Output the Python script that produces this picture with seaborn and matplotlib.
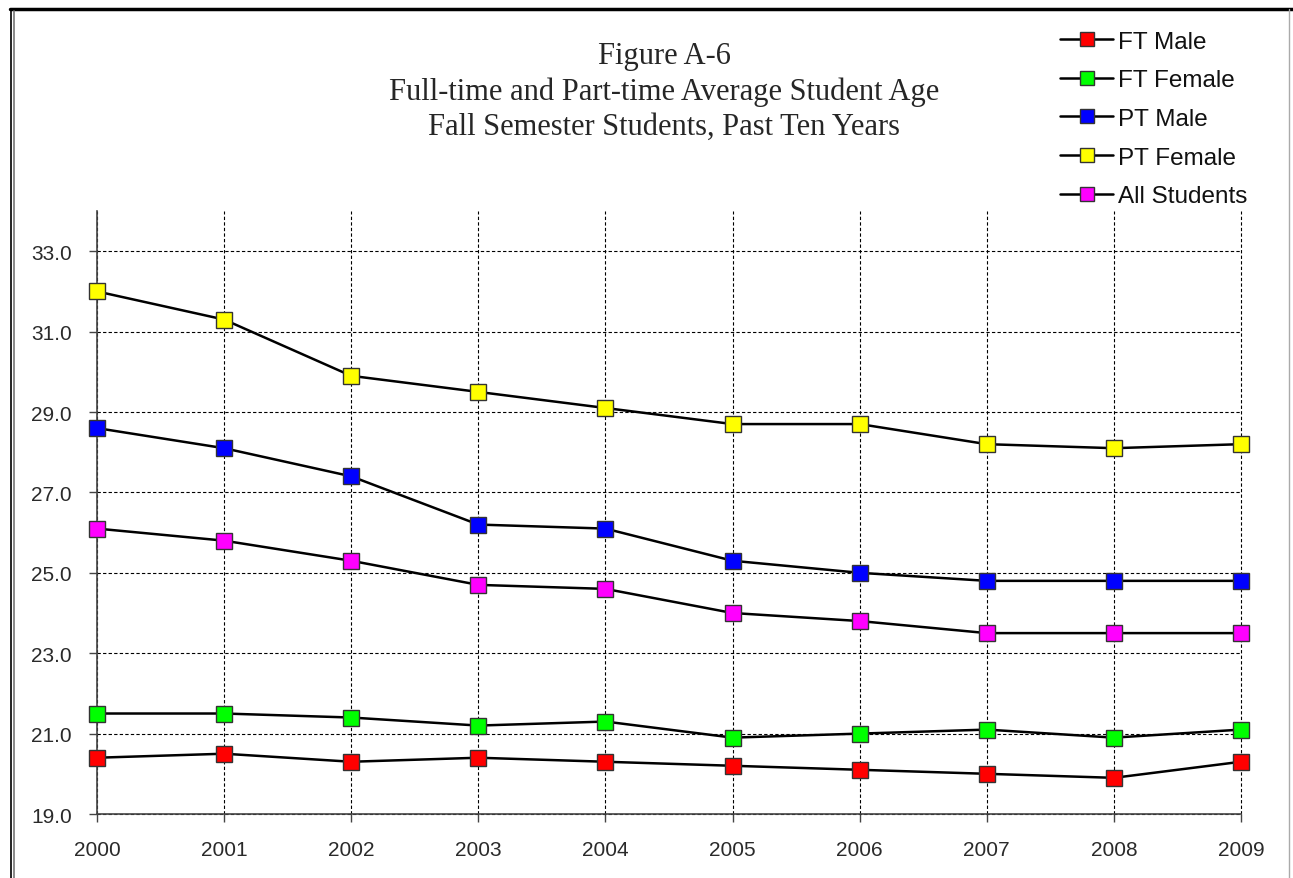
import numpy as np
import pandas as pd
import seaborn as sns
import matplotlib.pyplot as plt
from matplotlib.lines import Line2D

years = [2000, 2001, 2002, 2003, 2004, 2005, 2006, 2007, 2008, 2009]
ft_male = [20.4, 20.5, 20.3, 20.4, 20.3, 20.2, 20.1, 20.0, 19.9, 20.3]
ft_female = [21.5, 21.5, 21.4, 21.2, 21.3, 20.9, 21.0, 21.1, 20.9, 21.1]
pt_male = [28.6, 28.1, 27.4, 26.2, 26.1, 25.3, 25.0, 24.8, 24.8, 24.8]
pt_female = [32.0, 31.3, 29.9, 29.5, 29.1, 28.7, 28.7, 28.2, 28.1, 28.2]
all_students = [26.1, 25.8, 25.3, 24.7, 24.6, 24.0, 23.8, 23.5, 23.5, 23.5]

series_names = ["FT Male", "FT Female", "PT Male", "PT Female", "All Students"]
series_vals = [ft_male, ft_female, pt_male, pt_female, all_students]
marker_colors = ["#ff0000", "#00ff00", "#0000ff", "#ffff00", "#ff00ff"]
y_ticks = [19, 21, 23, 25, 27, 29, 31, 33]

sns.set_style("white")
plt.rcParams['font.family'] = ['Liberation Sans', 'DejaVu Sans']

fig = plt.figure(figsize=(12.93, 8.79), dpi=100)
ax = fig.add_axes([0.075, 0.0728, 0.8848, 0.686])

for name, vals, c in zip(series_names, series_vals, marker_colors):
    df = pd.DataFrame({"year": years, "age": vals})
    sns.lineplot(data=df, x="year", y="age", ax=ax, color="black", lw=1.8,
                 marker="s", markersize=11, markerfacecolor=c,
                 markeredgecolor="#333333", markeredgewidth=1.0, label=name,
                 clip_on=False, zorder=6)

ax.set_xlim(2000, 2009)
ax.set_ylim(19, 34)
ax.set_xticks(years)
ax.set_yticks(y_ticks)
ax.set_yticklabels([f"{v:.1f}" for v in y_ticks])
ax.set_xlabel("")
ax.set_ylabel("")
ax.grid(True, color="black", ls=(0, (3, 2)), lw=0.8)
for gl in ax.get_xgridlines() + ax.get_ygridlines():
    gl.set_clip_on(False)
for s in ["top", "right"]:
    ax.spines[s].set_visible(False)
for s in ["left", "bottom"]:
    ax.spines[s].set_color("#444444")
    ax.spines[s].set_linewidth(1.2)
    ax.spines[s].set_zorder(5)
ax.tick_params(axis="both", direction="out", length=6, width=1, color="#444444",
               labelsize=15, labelcolor="#2a2a2a", left=True, bottom=True)
ax.tick_params(axis="x", pad=13)
ax.tick_params(axis="y", pad=12)

leg = ax.legend(loc="upper left", bbox_to_anchor=(1038 / 1293, 1 - 10 / 879),
                bbox_transform=fig.transFigure, frameon=False, fontsize=17.5,
                handlelength=2.2, handletextpad=0.2, labelspacing=0.68,
                markerscale=0.9)
for t in leg.get_texts():
    t.set_color("#111111")

fig.text(0.5135, 0.8955, "Figure A-6\nFull-time and Part-time Average Student Age\nFall Semester Students, Past Ten Years",
         ha="center", va="center", fontsize=22, linespacing=1.27,
         family=["Liberation Serif", "DejaVu Serif"])

# frame around the figure
fig.add_artist(Line2D([0.008, 1.0], [0.989, 0.989], color="black", lw=2.5, transform=fig.transFigure))
fig.add_artist(Line2D([0.0088, 0.0088], [0.0, 0.989], color="black", lw=1.2, transform=fig.transFigure))
fig.add_artist(Line2D([0.0108, 0.0108], [0.0, 0.986], color="#777777", lw=1.2, transform=fig.transFigure))
fig.add_artist(Line2D([0.997, 0.997], [0.0, 0.989], color="#aaaaaa", lw=1.0, transform=fig.transFigure))

fig.savefig("out.png", dpi=100)
